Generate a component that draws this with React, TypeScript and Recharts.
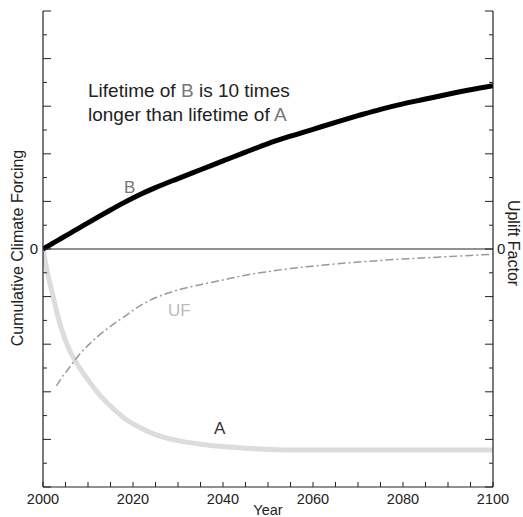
import React from 'react';
import { LineChart, Line, XAxis, YAxis, ReferenceLine } from 'recharts';

const years = [2000, 2001, 2002, 2003, 2004, 2006, 2008, 2010, 2012, 2015, 2018, 2021, 2025, 2030, 2035, 2040, 2045, 2050, 2055, 2060, 2065, 2070, 2075, 2080, 2085, 2090, 2095, 2100];
const seriesA = [0, -1.0, -1.8, -2.6, -3.3, -4.3, -4.95, -5.5, -6.0, -6.6, -7.1, -7.45, -7.8, -8.05, -8.2, -8.3, -8.37, -8.42, -8.45, -8.45, -8.45, -8.45, -8.45, -8.45, -8.45, -8.45, -8.45, -8.45];
const seriesB = [0, 0.11, 0.22, 0.33, 0.44, 0.66, 0.88, 1.1, 1.32, 1.64, 1.95, 2.24, 2.58, 2.96, 3.33, 3.7, 4.07, 4.43, 4.74, 5.03, 5.32, 5.6, 5.87, 6.1, 6.3, 6.5, 6.69, 6.86];
const seriesUF = [null, null, null, -5.75, -5.45, -4.95, -4.45, -4.05, -3.7, -3.25, -2.85, -2.45, -2.05, -1.72, -1.5, -1.3, -1.1, -0.95, -0.82, -0.72, -0.63, -0.55, -0.48, -0.42, -0.37, -0.32, -0.27, -0.22];

const yearTicks = [2000, 2005, 2010, 2015, 2020, 2025, 2030, 2035, 2040, 2045, 2050, 2055, 2060, 2065, 2070, 2075, 2080, 2085, 2090, 2095, 2100];
const yearLabels = [2000, 2020, 2040, 2060, 2080, 2100];
const valueTicks = [-10, -9, -8, -7, -6, -5, -4, -3, -2, -1, 0, 1, 2, 3, 4, 5, 6, 7, 8, 9, 10];

const data = years.map((year, i) => ({ year, A: seriesA[i], B: seriesB[i], UF: seriesUF[i] }));

const FONT = '"Liberation Sans", Arial, sans-serif';
const INK = '#222';

const BottomTick = (props: any) => {
  const { x, y, payload } = props;
  const v = payload.value;
  return (
    <g>
      <line x1={x} x2={x} y1={y} y2={y - 5} stroke={INK} strokeWidth={1} />
      {yearLabels.includes(v) && (
        <text x={x} y={y + 17} textAnchor="middle" fontSize={14.5} fontFamily={FONT} fill={INK}>{v}</text>
      )}
    </g>
  );
};

const TopTick = (props: any) => {
  const { x, y } = props;
  return <line x1={x} x2={x} y1={y} y2={y + 5} stroke={INK} strokeWidth={1} />;
};

const LeftTick = (props: any) => {
  const { x, y, payload } = props;
  const v = payload.value;
  const len = v % 2 === 0 ? 8 : 4;
  return (
    <g>
      <line x1={x} x2={x + len} y1={y} y2={y} stroke={INK} strokeWidth={1} />
      {v === 0 && (
        <text x={x - 5} y={y + 5} textAnchor="end" fontSize={15} fontFamily={FONT} fill={INK}>0</text>
      )}
    </g>
  );
};

const RightTick = (props: any) => {
  const { x, y, payload } = props;
  const v = payload.value;
  const len = v % 2 === 0 ? 8 : 4;
  return (
    <g>
      <line x1={x} x2={x - len} y1={y} y2={y} stroke={INK} strokeWidth={1} />
      {v === 0 && (
        <text x={x + 4} y={y + 5} textAnchor="start" fontSize={15} fontFamily={FONT} fill={INK}>0</text>
      )}
    </g>
  );
};

export default function App() {
  return (
    <div style={{ position: 'absolute', left: 0, top: 0, width: 523, height: 517, background: '#fff' }}>
      <LineChart width={523} height={517} data={data} margin={{ top: 11, right: 0, bottom: 0, left: 0 }}>
        <XAxis dataKey="year" type="number" domain={[2000, 2100]} ticks={yearTicks} interval={0}
          height={30} tickSize={0} tickMargin={0} tick={<BottomTick />} tickLine={false}
          axisLine={{ stroke: INK, strokeWidth: 1.2 }} allowDataOverflow />
        <XAxis xAxisId="top" orientation="top" dataKey="year" type="number" domain={[2000, 2100]} ticks={yearTicks}
          interval={0} height={0} tickSize={0} tickMargin={0} tick={<TopTick />} tickLine={false}
          axisLine={{ stroke: INK, strokeWidth: 1.2 }} />
        <YAxis yAxisId="left" type="number" domain={[-10, 10]} ticks={valueTicks} interval={0} width={43}
          tickSize={0} tickMargin={0} tick={<LeftTick />} tickLine={false}
          axisLine={{ stroke: INK, strokeWidth: 1.2 }} />
        <YAxis yAxisId="right" orientation="right" type="number" domain={[-10, 10]} ticks={valueTicks} interval={0}
          width={30} tickSize={0} tickMargin={0} tick={<RightTick />} tickLine={false}
          axisLine={{ stroke: INK, strokeWidth: 1.2 }} />
        <ReferenceLine yAxisId="left" y={0} stroke={INK} strokeWidth={1} />
        <Line yAxisId="left" dataKey="A" type="monotone" stroke="#dcdcdc" strokeWidth={5} dot={false} isAnimationActive={false} />
        <Line yAxisId="right" dataKey="UF" type="monotone" stroke="#999" strokeWidth={1.5} strokeDasharray="8 3 2 3" dot={false} isAnimationActive={false} />
        <Line yAxisId="left" dataKey="B" type="monotone" stroke="#000" strokeWidth={5} dot={false} isAnimationActive={false} />

        <text x={88} y={97} fontSize={19} fontFamily={FONT} fill={INK}>
          Lifetime of <tspan fill="#777">B</tspan> is 10 times
        </text>
        <text x={88} y={121} fontSize={19} fontFamily={FONT} fill={INK}>
          longer than lifetime of <tspan fill="#777">A</tspan>
        </text>
        <text x={124} y={193} fontSize={17} fontFamily={FONT} fill="#777">B</text>
        <text x={168} y={316} fontSize={17} fontFamily={FONT} fill="#bbb">UF</text>
        <text x={214} y={434} fontSize={17} fontFamily={FONT} fill="#333">A</text>
        <text x={268} y={515} textAnchor="middle" fontSize={14.5} fontFamily={FONT} fill={INK}>Year</text>
        <text transform="translate(23,248) rotate(-90)" textAnchor="middle" fontSize={16} fontFamily={FONT} fill={INK}>
          Cumulative Climate Forcing
        </text>
        <text transform="translate(508,243) rotate(90)" textAnchor="middle" fontSize={16} fontFamily={FONT} fill={INK}>
          Uplift Factor
        </text>
      </LineChart>
    </div>
  );
}
